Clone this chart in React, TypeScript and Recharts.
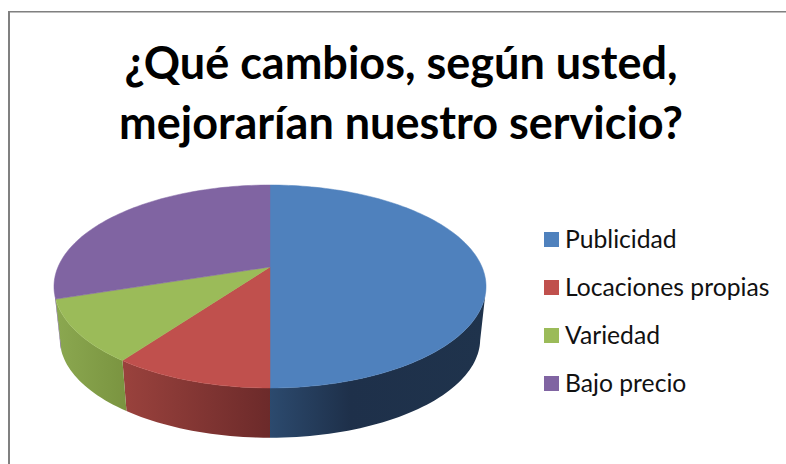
import React from "react";
import { PieChart, Pie, Cell, Legend } from "recharts";

const categories = ["Publicidad", "Locaciones propias", "Variedad", "Bajo precio"];
const shares = [50, 10, 10, 30];
const titleLines = ["¿Qué cambios, según usted,", "mejorarían nuestro servicio?"];

const COLORS = ["#4f81bd", "#c0504d", "#9bbb59", "#8064a2"];
// wall shading per slice, left to right
const WALL_STOPS = [
  [[0, "#2c4a6e"], [0.37, "#1e304a"], [1, "#1f334c"]],
  [[0, "#9a423d"], [1, "#6c2a2a"]],
  [[0, "#8ba850"], [1, "#7a9440"]],
  [[0, "#5f4a79"], [1, "#5f4a79"]],
];

const tableData = categories.map((name, i) => ({ name, value: shares[i] }));

// perspective of the tilted disc, relative to the pie radius
const TILT = 0.461;
const SKEW = -0.192;
const WALL_SCALE = 0.973;
const WALL_DROP = 53;
const RIM_LIMIT = 0.19;

function anglesOf(start: number, end: number): number[] {
  const out: number[] = [];
  const step = 1.5;
  for (let a = start; a > end; a -= step) out.push(a);
  out.push(end);
  return out;
}

function project(angle: number, r: number) {
  const rad = (angle * Math.PI) / 180;
  const u = Math.cos(rad);
  const v = -Math.sin(rad);
  const d = 1 + SKEW * v;
  return { dx: (r * u) / d, dy: (r * TILT * v) / d, v };
}

function SliceShape(props: any) {
  const { cx, cy, outerRadius, startAngle, endAngle, fill, index } = props;
  const rim = anglesOf(startAngle, endAngle).map((a) => project(a, outerRadius));
  const top =
    `M${cx},${cy} ` +
    rim.map((p) => `L${(cx + p.dx).toFixed(2)},${(cy + p.dy).toFixed(2)}`).join(" ") +
    " Z";

  const near = rim.filter((p) => p.v >= RIM_LIMIT);
  let wall = "";
  if (near.length > 1) {
    const upper = near.map((p) => `${(cx + p.dx).toFixed(2)},${(cy + p.dy).toFixed(2)}`);
    const lower = near
      .map((p) => `${(cx + p.dx * WALL_SCALE).toFixed(2)},${(cy + WALL_DROP + p.dy * WALL_SCALE).toFixed(2)}`)
      .reverse();
    wall = `M${upper.concat(lower).join(" L")} Z`;
  }
  const i = index ?? COLORS.indexOf(fill);
  const gradId = `wall-${i}`;

  return (
    <g>
      <defs>
        <linearGradient id={gradId}>
          {(WALL_STOPS[i] || []).map(([o, c]) => (
            <stop key={String(o)} offset={o as number} stopColor={c as string} />
          ))}
        </linearGradient>
      </defs>
      {wall && <path d={wall} fill={`url(#${gradId})`} stroke="none" />}
      <path d={top} fill={fill} stroke={fill} strokeWidth={0.5} />
    </g>
  );
}

function LegendList({ payload }: any) {
  return (
    <div>
      {(payload || []).map((entry: any) => (
        <div
          key={entry.value}
          style={{ display: "flex", alignItems: "center", height: 48, whiteSpace: "nowrap" }}
        >
          <span style={{ width: 15, height: 15, background: entry.color, marginRight: 6 }} />
          <span style={{ fontFamily: "Lato", fontSize: 24.7, color: "#111", position: "relative", top: -1 }}>
            {entry.value}
          </span>
        </div>
      ))}
    </div>
  );
}

export default function App() {
  return (
    <div style={{ position: "absolute", left: 0, top: 0, width: 786, height: 464, overflow: "hidden", background: "#fff" }}>
      <div
        style={{
          position: "absolute",
          left: 8,
          top: 11,
          width: 800,
          height: 470,
          borderLeft: "2px solid #808080",
          borderTop: "1px solid #808080",
          boxShadow: "inset 0 1px 0 #bdbdbd",
        }}
      />
      {titleLines.map((line, i) => (
        <div
          key={line}
          style={{
            position: "absolute",
            left: 0,
            width: 802,
            top: 32 + i * 60,
            textAlign: "center",
            fontFamily: "Lato",
            fontWeight: 700,
            fontSize: 45,
            lineHeight: "60px",
            color: "#000",
            whiteSpace: "nowrap",
          }}
        >
          {line}
        </div>
      ))}
      <div style={{ position: "absolute", left: 0, top: 0 }}>
        <PieChart width={786} height={464} margin={{ top: 0, right: 0, bottom: 0, left: 0 }}>
          <Pie
            data={tableData}
            dataKey="value"
            nameKey="name"
            cx={270}
            cy={267}
            outerRadius={212}
            startAngle={90}
            endAngle={-270}
            stroke="none"
            shape={SliceShape}
            isAnimationActive={false}
          >
            {tableData.map((_, idx) => (
              <Cell key={idx} fill={COLORS[idx]} />
            ))}
          </Pie>
          <Legend
            layout="vertical"
            align="right"
            verticalAlign="top"
            itemSorter={null}
            wrapperStyle={{ left: 544, right: "auto", top: 215, width: 240 }}
            content={<LegendList />}
          />
        </PieChart>
      </div>
    </div>
  );
}
